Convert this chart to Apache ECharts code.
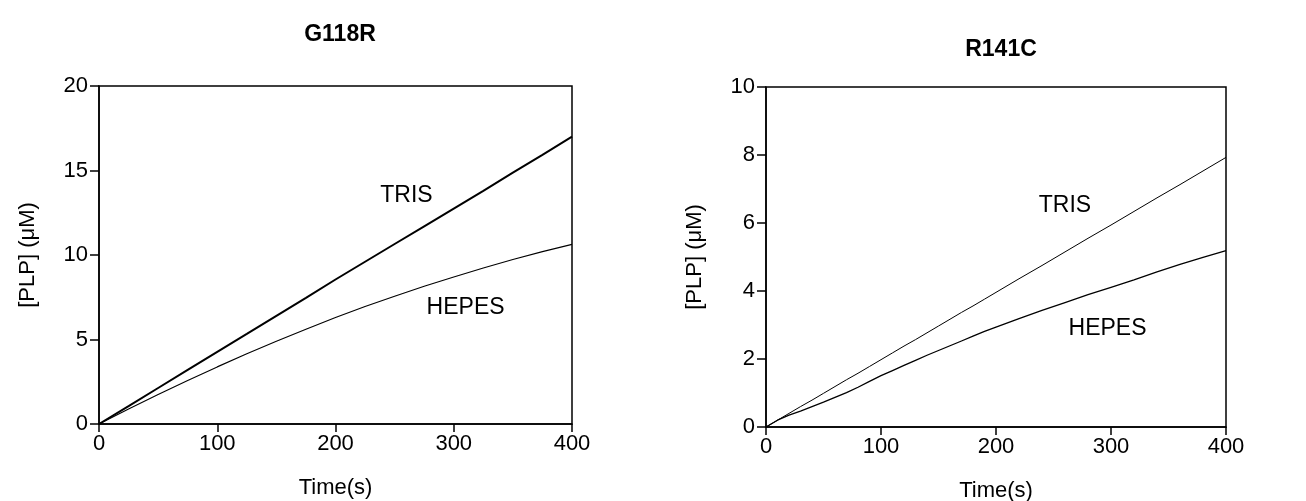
<!DOCTYPE html>
<html>
<head>
  <meta charset="UTF-8">
  <title>G118R / R141C</title>
  <script src="https://cdn.jsdelivr.net/npm/echarts@6/dist/echarts.min.js"></script>
  <style>
    body { margin: 0; background: #fff; }
    #main { width: 1306px; height: 501px; }
  </style>
</head>
<body>
<div id="main"></div>
<script type="text/javascript">
  // 左图 G118R（时间 s，浓度 μM）
  var timeA = [0, 25, 50, 75, 100, 125, 150, 175, 200, 225, 250, 275, 300, 325, 350, 375, 400];
  var trisA = [0, 1.06, 2.13, 3.2, 4.27, 5.33, 6.4, 7.46, 8.55, 9.6, 10.65, 11.7, 12.75, 13.8, 14.87, 15.93, 17.0];
  var hepesA = [0, 0.89, 1.75, 2.58, 3.38, 4.15, 4.89, 5.6, 6.3, 6.95, 7.56, 8.15, 8.7, 9.23, 9.73, 10.2, 10.63];

  // 右图 R141C
  var timeB = [0, 10, 20, 30, 40, 50, 60, 70, 80, 90, 100, 110, 120, 130, 140, 150, 160, 170, 180, 190, 200,
    220, 240, 260, 280, 300, 320, 340, 360, 380, 400];
  var trisB = [0, 0.2, 0.4, 0.6, 0.79, 0.99, 1.19, 1.39, 1.58, 1.78, 1.98, 2.18, 2.38, 2.57, 2.77, 2.97, 3.17, 3.37, 3.56, 3.76, 3.96,
    4.36, 4.75, 5.15, 5.55, 5.94, 6.34, 6.74, 7.13, 7.53, 7.93];
  var hepesB = [0, 0.2, 0.35, 0.47, 0.6, 0.73, 0.87, 1.01, 1.17, 1.34, 1.51, 1.66, 1.81, 1.96, 2.11, 2.25, 2.39, 2.53, 2.67, 2.81, 2.94,
    3.19, 3.43, 3.66, 3.89, 4.11, 4.33, 4.56, 4.78, 4.99, 5.19];

  function pairs(xs, ys) {
    return xs.map(function (x, i) { return [x, ys[i]]; });
  }

  var font = 'Liberation Sans, Arial, sans-serif';

  function xAxisOf(idx) {
    return {
      gridIndex: idx, type: 'value', min: 0, max: 400, interval: 100,
      name: 'Time(s)', nameLocation: 'middle', nameGap: 53,
      nameTextStyle: { color: '#000', fontSize: 22, fontFamily: font },
      axisLine: { lineStyle: { color: '#000', width: 1.5 } },
      axisTick: { length: 8, lineStyle: { color: '#000', width: 1.5 } },
      axisLabel: { color: '#000', fontSize: 22, fontFamily: font, margin: 9 },
      splitLine: { show: false }
    };
  }

  function yAxisOf(idx, max, step) {
    return {
      gridIndex: idx, type: 'value', min: 0, max: max, interval: step,
      name: '[PLP] (μM)', nameLocation: 'middle', nameGap: 60,
      nameTextStyle: { color: '#000', fontSize: 22, fontFamily: font },
      axisLine: { show: true, lineStyle: { color: '#000', width: 1.5 } },
      axisTick: { show: true, length: 9, lineStyle: { color: '#000', width: 1.5 } },
      axisLabel: { color: '#000', fontSize: 22, fontFamily: font, margin: 11 },
      splitLine: { show: false }
    };
  }

  function curve(name, idx, data, width, label, coord) {
    return {
      name: name, type: 'line', xAxisIndex: idx, yAxisIndex: idx,
      data: data, showSymbol: false, symbol: 'none', silent: true,
      lineStyle: { color: '#000', width: width },
      markPoint: {
        symbol: 'circle', symbolSize: 0, silent: true,
        label: { show: true, position: 'inside', color: '#000', fontSize: 23, fontFamily: font, formatter: label },
        data: [{ coord: coord }]
      }
    };
  }

  var myChart = echarts.init(document.getElementById('main'));
  var option = {
    animation: false,
    title: [
      { text: 'G118R', left: 335, top: 18, textAlign: 'center',
        textStyle: { fontSize: 23, fontWeight: 'bold', color: '#000', fontFamily: font } },
      { text: 'R141C', left: 996, top: 33, textAlign: 'center',
        textStyle: { fontSize: 23, fontWeight: 'bold', color: '#000', fontFamily: font } }
    ],
    grid: [
      { left: 99, top: 86, width: 473, height: 338, outerBoundsMode: 'none', containLabel: false,
        show: true, borderColor: '#000', borderWidth: 1.5 },
      { left: 766, top: 87, width: 460, height: 340, outerBoundsMode: 'none', containLabel: false,
        show: true, borderColor: '#000', borderWidth: 1.5 }
    ],
    xAxis: [xAxisOf(0), xAxisOf(1)],
    yAxis: [yAxisOf(0, 20, 5), yAxisOf(1, 10, 2)],
    series: [
      curve('TRIS', 0, pairs(timeA, trisA), 2, 'TRIS', [260, 13.5]),
      curve('HEPES', 0, pairs(timeA, hepesA), 1.1, 'HEPES', [310, 6.9]),
      curve('TRIS', 1, pairs(timeB, trisB), 1, 'TRIS', [260, 6.5]),
      curve('HEPES', 1, pairs(timeB, hepesB), 1.3, 'HEPES', [297, 2.9])
    ]
  };
  myChart.setOption(option);
</script>
</body>
</html>
